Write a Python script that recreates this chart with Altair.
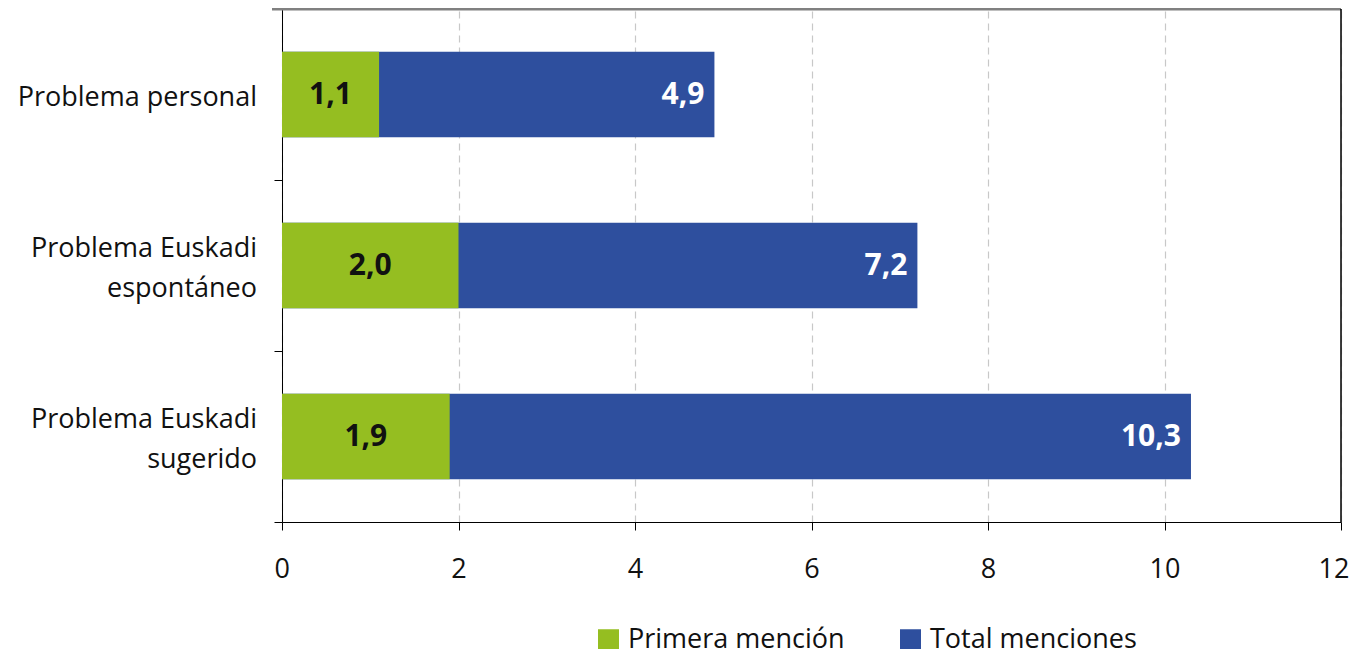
import altair as alt
import pandas as pd

categories = ["Problema personal", "Problema Euskadi|espontáneo", "Problema Euskadi|sugerido"]
primera = [1.1, 2.0, 1.9]
total = [4.9, 7.2, 10.3]
series_names = ["Primera mención", "Total menciones"]
colors = ["#95BE21", "#2E4F9E"]
x_ticks = [0, 2, 4, 6, 8, 10, 12]

rows = []
for c, t in zip(categories, total):
    rows.append({"cat": c, "serie": series_names[1], "value": t})
for c, p in zip(categories, primera):
    rows.append({"cat": c, "serie": series_names[0], "value": p})
df = pd.DataFrame(rows)
df["label"] = df["value"].map(lambda v: f"{v:.1f}".replace(".", ","))
df["mid"] = df["value"] / 2

cat_df = pd.DataFrame({"cat": categories})
cat_df["lines"] = cat_df["cat"].map(lambda s: s.split("|"))
cat_df["nlines"] = cat_df["lines"].map(len)

FONT = "Open Sans"
W, H = 1059, 513

y_scale = alt.Scale(domain=categories, paddingInner=0, paddingOuter=0)
y_enc = alt.Y("cat:N", sort=categories, title=None, scale=y_scale,
              axis=alt.Axis(tickBand="extent", tickSize=8, tickColor="black",
                            domainColor="black", labels=False))

x_scale = alt.Scale(domain=[0, 12], nice=False)
x_axis = alt.Axis(values=x_ticks, format="d", tickSize=8, tickColor="black", domainColor="black",
                  labelFontSize=27, labelFont=FONT, labelColor="#111", labelPadding=26,
                  labelFlush=True, labelFlushOffset=8,
                  grid=True, gridDash=[7, 5], gridColor="#c8c8c8", gridWidth=1.2,
                  title=None)

bars = alt.Chart(df).mark_bar(height=alt.RelativeBandSize(0.5)).encode(
    x=alt.X("value:Q", scale=x_scale, axis=x_axis, stack=None),
    y=y_enc,
    color=alt.Color("serie:N", scale=alt.Scale(domain=series_names, range=colors),
                    legend=alt.Legend(title=None, orient="none", direction="horizontal",
                                      legendX=313, legendY=617,
                                      symbolType="square", symbolSize=441,
                                      symbolStrokeWidth=0, symbolOpacity=1,
                                      labelFontSize=27, labelFont=FONT, labelColor="#111",
                                      columnPadding=52, labelOffset=6, labelLimit=400)),
    order=alt.Order("serie:N", sort="descending"),
)

green_text = alt.Chart(df[df["serie"] == series_names[0]]).mark_text(
    fontSize=30, fontWeight="bold", font=FONT, color="#111", baseline="middle"
).encode(
    x=alt.X("mid:Q", scale=x_scale),
    y=alt.Y("cat:N", sort=categories, scale=y_scale),
    text="label:N",
)

blue_text = alt.Chart(df[df["serie"] == series_names[1]]).mark_text(
    fontSize=30, fontWeight="bold", font=FONT, color="white", baseline="middle",
    align="right", dx=-10
).encode(
    x=alt.X("value:Q", scale=x_scale),
    y=alt.Y("cat:N", sort=categories, scale=y_scale),
    text="label:N",
)

cat_one = alt.Chart(cat_df[cat_df["nlines"] == 1]).mark_text(
    fontSize=27, font=FONT, color="#111", align="right", baseline="middle", dy=3
).encode(
    x=alt.value(-25),
    y=alt.Y("cat:N", sort=categories, scale=y_scale),
    text="lines",
)
cat_two = alt.Chart(cat_df[cat_df["nlines"] == 2]).mark_text(
    fontSize=27, font=FONT, color="#111", align="right", baseline="middle",
    lineHeight=40, dy=-17
).encode(
    x=alt.value(-25),
    y=alt.Y("cat:N", sort=categories, scale=y_scale),
    text="lines",
)

top_border = alt.Chart(pd.DataFrame({"a": [0]})).mark_rule(color="#808080", strokeWidth=3).encode(
    x=alt.value(-10), x2=alt.value(W), y=alt.value(0)
)
right_border = alt.Chart(pd.DataFrame({"a": [0]})).mark_rule(color="black", strokeWidth=1.5).encode(
    x=alt.value(W), y=alt.value(0), y2=alt.value(H)
)

chart = alt.layer(bars, green_text, blue_text, cat_one, cat_two, top_border, right_border).properties(
    width=W, height=H,
    autosize=alt.AutoSizeParams(type="none"),
    padding={"left": 274, "top": 1, "right": 10, "bottom": 127},
).configure_view(stroke=None).configure(background="white")

chart.save("out.html", embed_options={"renderer": "svg", "actions": False})
